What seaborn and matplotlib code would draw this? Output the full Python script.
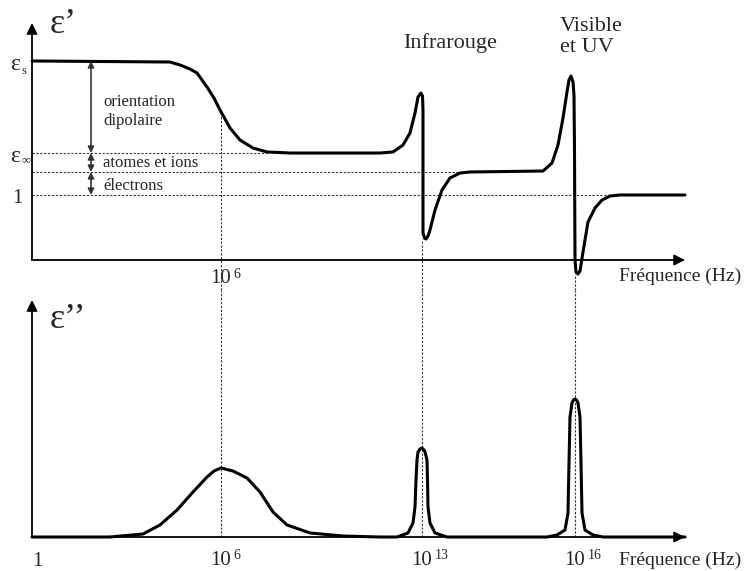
import numpy as np
import pandas as pd
import seaborn as sns
import matplotlib.pyplot as plt

# position along the (schematic, non-linear) frequency axis, 0 = origin
pos_real = [0, 138, 148, 158, 165, 175, 182, 188, 198, 208, 221, 235, 258,
            348, 361, 371, 378, 383, 386, 389, 390.5, 391, 391, 392.5, 394,
            396, 398, 403, 410, 418, 428, 438, 511, 520, 526, 531, 535, 537,
            539, 541, 542, 542.5, 543, 544, 546, 548, 551, 556, 563, 570, 578,
            588, 653]
eps_real = [3.062, 3.046, 3.0, 2.938, 2.877, 2.662, 2.492, 2.308, 2.031,
            1.846, 1.723, 1.662, 1.646, 1.646, 1.662, 1.769, 1.954, 2.262,
            2.508, 2.569, 2.523, 2.308, 0.415, 0.338, 0.323, 0.369, 0.462,
            0.769, 1.077, 1.262, 1.338, 1.354, 1.369, 1.492, 1.769, 2.185,
            2.585, 2.769, 2.831, 2.738, 2.538, 1.692, 0.0, -0.185, -0.215,
            -0.169, 0.123, 0.585, 0.8, 0.923, 0.985, 1.0, 1.0]

pos_imag = [0, 78, 111, 128, 145, 161, 175, 182, 189, 201, 215, 228, 241,
            255, 278, 311, 348, 365, 376, 381, 383, 384, 385, 386, 388, 390,
            392, 393, 395, 395.5, 396, 398, 403, 415, 515, 525, 533, 536, 537,
            538, 540, 541.5, 543, 544.5, 546, 548, 549, 550, 553, 561, 571, 653]
eps_imag = [0, 0, 0.046, 0.185, 0.415, 0.692, 0.923, 1.015, 1.062, 1.015,
            0.908, 0.692, 0.385, 0.185, 0.062, 0.015, 0, 0, 0.062, 0.215,
            0.462, 0.877, 1.185, 1.308, 1.354, 1.369, 1.338, 1.308, 1.185,
            0.877, 0.462, 0.215, 0.062, 0, 0, 0.031, 0.108, 0.369, 1.138,
            1.846, 2.062, 2.108, 2.123, 2.108, 2.062, 1.846, 1.138, 0.369,
            0.108, 0.031, 0, 0]

# levels of epsilon' and where their dotted guides stop
eps_s, eps_inf, eps_el, eps_one = 3.062, 1.646, 1.354, 1.0
guide_levels = [eps_inf, eps_el, eps_one]
guide_ends = [235, 430, 577]
contrib_labels = ['orientation\ndipolaire', 'atomes et ions', 'électrons']
contrib_label_y = [2.277, 1.49, 1.14]

# resonance / relaxation frequencies
res_pos = [189, 390, 543]
res_exp = ['6', '13', '16']
res_top = [2.308, 0.323, -0.215]  # where the guide leaves the eps' curve

x_end = 653
y_arrow = 3.646

sns.set_theme(style='white')
plt.rcParams['font.family'] = ['Liberation Serif', 'DejaVu Serif']

fig = plt.figure(figsize=(7.44, 5.71), dpi=100)
ax1 = fig.add_axes([0, 281 / 571, 1, 290 / 571])
ax2 = fig.add_axes([0, 0, 1, 281 / 571])
ax1.set_ylim(-30 / 65, 4.0)
ax2.set_ylim(-34 / 65, 3.8)
for ax in (ax1, ax2):
    ax.set_xlim(-32, 712)
    ax.set_axis_off()

dot = dict(color='#333333', lw=0.8, linestyle=(0, (2, 1.5)))
ax1.hlines(guide_levels, 0, guide_ends, **dot)
ax1.vlines(res_pos, ax1.get_ylim()[0], res_top, **dot)
ax2.vlines(res_pos, 0, ax2.get_ylim()[1], **dot)

df1 = pd.DataFrame({'pos': pos_real, 'eps': eps_real})
df2 = pd.DataFrame({'pos': pos_imag, 'eps': eps_imag})
sns.lineplot(data=df1, x='pos', y='eps', ax=ax1, color='black', lw=2.2,
             estimator=None, sort=False)
sns.lineplot(data=df2, x='pos', y='eps', ax=ax2, color='black', lw=2.2,
             estimator=None, sort=False)
for ax in (ax1, ax2):
    ax.set_xlim(-32, 712)

# axes with arrows
for ax in (ax1, ax2):
    ax.annotate('', xy=(0, y_arrow), xytext=(0, 0),
                arrowprops=dict(arrowstyle='-|>', color='black', lw=1.3,
                                mutation_scale=16, shrinkA=0, shrinkB=0))
    ax.annotate('', xy=(x_end, 0), xytext=(0, 0),
                arrowprops=dict(arrowstyle='-|>', color='black', lw=1.3,
                                mutation_scale=16, shrinkA=0, shrinkB=0))

# double arrows for the contributions
bounds = [eps_s, eps_inf, eps_el, eps_one]
for hi, lo, lab, ly in zip(bounds[:-1], bounds[1:], contrib_labels,
                           contrib_label_y):
    ax1.annotate('', xy=(59, lo), xytext=(59, hi),
                 arrowprops=dict(arrowstyle='<|-|>', color='#333333', lw=1.2,
                                 mutation_scale=9, shrinkA=0, shrinkB=0))
    ax1.text(71, ly, lab, fontsize=12, va='center', ha='left',
             linespacing=1.25)

# y labels
ax1.text(18, 3.63, 'ε’', fontsize=26, ha='left', va='center')
ax2.text(18, 3.34, 'ε’’', fontsize=26, ha='left', va='center')
ax1.text(-22, eps_s - 0.06, 'ε', fontsize=17, ha='left', va='center')
ax1.text(-10, eps_s - 0.15, 's', fontsize=9, ha='left', va='center')
ax1.text(-22, eps_inf - 0.06, 'ε', fontsize=17, ha='left', va='center')
ax1.text(-10, eps_inf - 0.11, '∞', fontsize=9, ha='left', va='center')
ax1.text(-15, eps_one - 0.06, '1', fontsize=15, ha='center', va='center')

# region labels
ax1.text(418, 3.34, 'Infrarouge', fontsize=16, ha='center', va='center')
ax1.text(528, 3.43, 'Visible\net UV', fontsize=16, ha='left', va='center',
         linespacing=1.1)

# frequency labels
ax1.text(587, -0.246, 'Fréquence (Hz)', fontsize=14, ha='left', va='center')
ax2.text(587, -0.354, 'Fréquence (Hz)', fontsize=14, ha='left', va='center')
ax2.text(5, -0.37, '1', fontsize=15, ha='center', va='center')


def freq_label(ax, x, y, exp):
    ax.text(x, y, '10', fontsize=15, ha='center', va='center')
    ax.annotate(exp, xy=(x, y), xytext=(9, 3), textcoords='offset points',
                fontsize=10, ha='left', va='center')


freq_label(ax1, res_pos[0], -0.29, res_exp[0])
for p, e in zip(res_pos, res_exp):
    freq_label(ax2, p, -0.354, e)

fig.savefig('out.png', dpi=100)
